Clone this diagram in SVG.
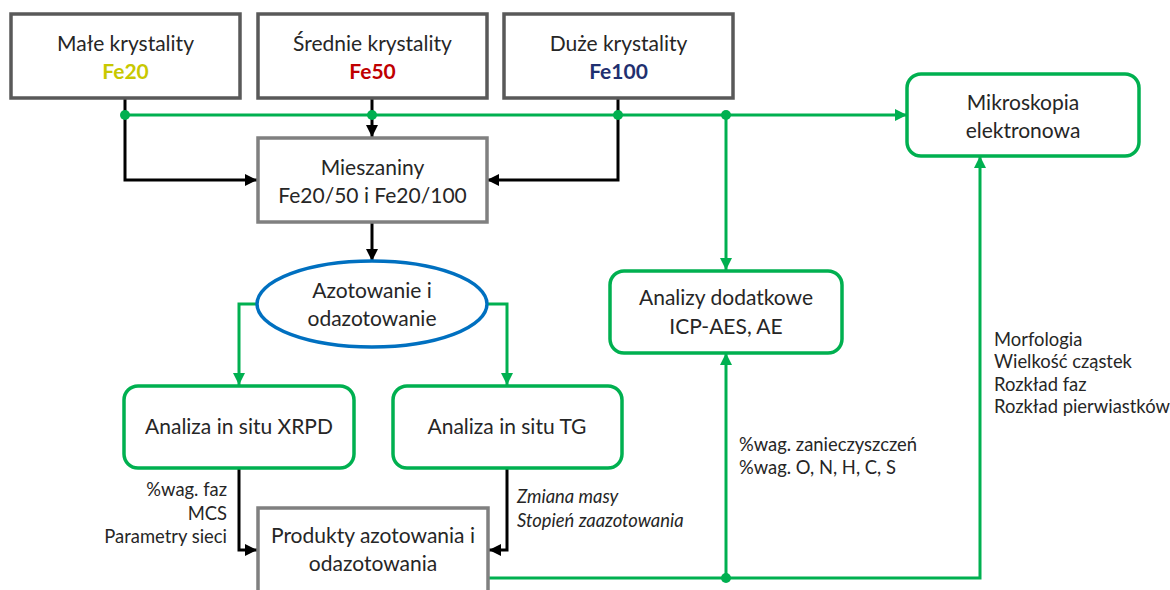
<svg xmlns="http://www.w3.org/2000/svg" width="1170" height="590" viewBox="0 0 1170 590">
<style>
text{font-family:Lato,"Open Sans","DejaVu Sans",sans-serif;fill:#262626}
.n{font-size:21px;text-anchor:middle}
.l{font-size:18.4px}
.b{font-weight:bold}
.top{fill:#fff;stroke:#595959;stroke-width:3.5}
.gray{fill:#fff;stroke:#808080;stroke-width:3.5}
.grn{fill:#fff;stroke:#00B050;stroke-width:3.5}
.ck{fill:none;stroke:#000;stroke-width:3}
.cg{fill:none;stroke:#00B050;stroke-width:3}
.dot{fill:#00B050}
</style>
<defs>
<marker id="ak" markerUnits="userSpaceOnUse" markerWidth="12" markerHeight="12" viewBox="0 0 12 12" refX="12" refY="6" orient="auto"><path d="M0,0 L12,6 L0,12 Z" fill="#000"/></marker>
<marker id="ag" markerUnits="userSpaceOnUse" markerWidth="12" markerHeight="12" viewBox="0 0 12 12" refX="12" refY="6" orient="auto"><path d="M0,0 L12,6 L0,12 Z" fill="#00B050"/></marker>
</defs>

<g id="connectors">
<path class="ck" d="M125,98 V180 H257" marker-end="url(#ak)"/>
<path class="ck" d="M372,98 V137" marker-end="url(#ak)"/>
<path class="ck" d="M618,98 V180 H487" marker-end="url(#ak)"/>
<path class="ck" d="M372,222 V261" marker-end="url(#ak)"/>
<path class="ck" d="M239,469 V550 H257" marker-end="url(#ak)"/>
<path class="ck" d="M507,469 V550 H489" marker-end="url(#ak)"/>
<path class="cg" d="M125,115 H907" marker-end="url(#ag)"/>
<path class="cg" d="M726,115 V270" marker-end="url(#ag)"/>
<path class="cg" d="M257,304 H239 V385" marker-end="url(#ag)"/>
<path class="cg" d="M487,304 H507 V385" marker-end="url(#ag)"/>
<path class="cg" d="M489,578 H980 V156" marker-end="url(#ag)"/>
<path class="cg" d="M726,578 V353" marker-end="url(#ag)"/>
<circle class="dot" cx="125" cy="115" r="5"/>
<circle class="dot" cx="372" cy="115" r="5"/>
<circle class="dot" cx="618" cy="115" r="5"/>
<circle class="dot" cx="726" cy="115" r="5"/>
<circle class="dot" cx="726" cy="578" r="5"/>
</g>

<g id="fe20">
<rect class="top" x="11" y="14" width="229" height="84"/>
<text class="n" x="125.5" y="51">Małe krystality</text>
<text class="n b" x="125.5" y="79" style="fill:#C8C800">Fe20</text>
</g>
<g id="fe50">
<rect class="top" x="258" y="14" width="229" height="84"/>
<text class="n" x="372.5" y="51">Średnie krystality</text>
<text class="n b" x="372.5" y="79" style="fill:#C00000">Fe50</text>
</g>
<g id="fe100">
<rect class="top" x="504" y="14" width="229" height="84"/>
<text class="n" x="618.5" y="51">Duże krystality</text>
<text class="n b" x="618.5" y="79" style="fill:#1F3070">Fe100</text>
</g>

<g id="mieszaniny">
<rect class="gray" x="258" y="138" width="229" height="84"/>
<text class="n" x="372.5" y="175">Mieszaniny</text>
<text class="n" x="372.5" y="203">Fe20/50 i Fe20/100</text>
</g>

<g id="azotowanie">
<ellipse cx="372" cy="304" rx="115" ry="43" fill="#fff" stroke="#0070C0" stroke-width="3.5"/>
<text class="n" x="372" y="298">Azotowanie i</text>
<text class="n" x="372" y="326">odazotowanie</text>
</g>

<g id="xrpd">
<rect class="grn" x="124" y="386" width="230" height="82" rx="14"/>
<text class="n" x="239" y="434">Analiza in situ XRPD</text>
</g>

<g id="tg">
<rect class="grn" x="393" y="386" width="229" height="82" rx="14"/>
<text class="n" x="507" y="434">Analiza in situ TG</text>
</g>

<g id="analizy">
<rect class="grn" x="610" y="271" width="232" height="82" rx="14"/>
<text class="n" x="726" y="305">Analizy dodatkowe</text>
<text class="n" x="726" y="334">ICP-AES, AE</text>
</g>

<g id="mikroskopia">
<rect class="grn" x="907" y="74" width="232" height="82" rx="14"/>
<text class="n" x="1023" y="110">Mikroskopia</text>
<text class="n" x="1023" y="138">elektronowa</text>
</g>

<g id="produkty">
<rect class="gray" x="258" y="508" width="230" height="100"/>
<text class="n" x="373" y="543">Produkty azotowania i</text>
<text class="n" x="373" y="571">odazotowania</text>
</g>

<g id="labels">
<text class="l" x="227" y="496" text-anchor="end">%wag. faz</text>
<text class="l" x="227" y="520" text-anchor="end">MCS</text>
<text class="l" x="227" y="543" text-anchor="end">Parametry sieci</text>
<text class="l" x="517" y="503" font-style="italic">Zmiana masy</text>
<text class="l" x="517" y="527" font-style="italic">Stopień zaazotowania</text>
<text class="l" x="739" y="451">%wag. zanieczyszczeń</text>
<text class="l" x="739" y="474">%wag. O, N, H, C, S</text>
<text class="l" x="994" y="346">Morfologia</text>
<text class="l" x="994" y="368">Wielkość cząstek</text>
<text class="l" x="994" y="391">Rozkład faz</text>
<text class="l" x="994" y="413">Rozkład pierwiastków</text>
</g>
</svg>
